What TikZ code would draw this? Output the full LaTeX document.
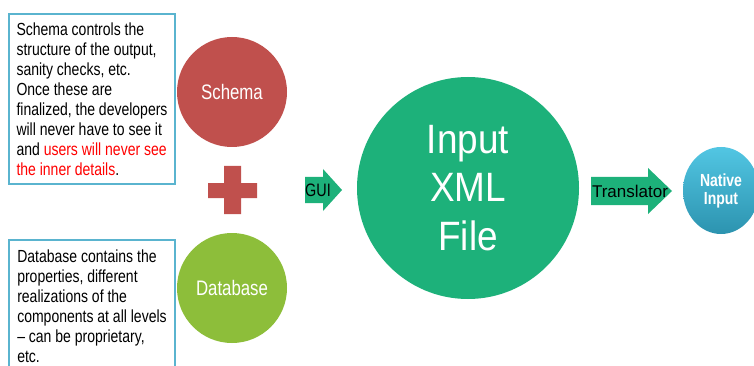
\documentclass[tikz,border=0pt]{standalone}
\usepackage{xcolor}
\usepackage{fontspec}
\setmainfont{Liberation Sans}
\newfontfamily\narrowfont{Liberation Sans}[FakeStretch=0.8]
\newfontfamily\lightfont{Liberation Sans}[FakeStretch=0.9]
\usepackage{tikz}
\usetikzlibrary{positioning, shapes.geometric}

\definecolor{schemared}{HTML}{C0504D}
\definecolor{dbgreen}{HTML}{8DBE3A}
\definecolor{xmlgreen}{HTML}{1DB17A}
\definecolor{boxblue}{HTML}{5AB4CF}
\definecolor{nativetop}{HTML}{52C6E3}
\definecolor{nativebot}{HTML}{2C93AF}

\begin{document}
\begin{tikzpicture}[
	x=1pt, y=-1pt,
	infobox/.style={draw=boxblue, line width=2pt, anchor=north west, align=left, minimum width=166pt, inner xsep=7pt, font=\narrowfont\fontsize{17.5}{20}\selectfont},
	bubble/.style={circle, fill=#1, text=white, minimum size=110pt, inner sep=0pt, font=\narrowfont\fontsize{21}{25}\selectfont},
	xmlfile/.style={circle, fill=xmlgreen, text=white, minimum size=222pt, inner sep=0pt, align=center, font=\lightfont\fontsize{41}{48.5}\selectfont},
	native/.style={ellipse, top color=nativetop, bottom color=nativebot, text=white, minimum width=76pt, minimum height=87pt, inner sep=0pt, align=center, font=\narrowfont\bfseries\fontsize{17.5}{18}\selectfont},
	arrowlabel/.style={inner sep=0pt, text=black}
	]
	
	\useasboundingbox (0,0) rectangle (754,366);
	\clip (0,0) rectangle (754,366);
	
	% Info boxes
	\node[infobox, minimum height=170pt] (schemainfo) at (8,13) {Schema controls the\\structure of the output,\\sanity checks, etc.\\Once these are\\finalized, the developers\\will never have to see it\\and {\color{red}users will never see}\\{\color{red}the inner details}.};
	\node[infobox, inner ysep=10pt] (dbinfo) at (8,239) {Database contains the\\properties, different\\realizations of the\\components at all levels\\– can be proprietary,\\etc.};
	
	% Schema + Database
	\node[bubble=schemared] (schema) at (232,92) {Schema};
	\node[bubble=dbgreen] (db) at (232,288) {Database};
	\fill[schemared] (208,183) rectangle (257,198) (224,166) rectangle (241,214);
	
	% GUI arrow
	\coordinate (guitail) at (305,190);
	\fill[xmlgreen] (guitail) ++(0,-13) -- ++(18,0) -- ++(0,-8) -- ++(19,21) -- ++(-19,21) -- ++(0,-8) -- ++(-18,0) -- cycle;
	\node[arrowlabel, font=\narrowfont\fontsize{18}{20}\selectfont] (gui) at (318,190) {GUI};
	
	% Input XML file
	\node[xmlfile] (xml) at (468,188) {Input\\XML\\File};
	
	% Translator arrow
	\coordinate (trtail) at (591,191);
	\fill[xmlgreen] (trtail) ++(0,-14) -- ++(57,0) -- ++(0,-9) -- ++(24,23) -- ++(-24,23) -- ++(0,-9) -- ++(-57,0) -- cycle;
	\node[arrowlabel, font=\fontsize{17}{20}\selectfont] (translator) at (630,191) {Translator};
	
	% Native input
	\node[native] (nat) at (721,190.5) {Native\\Input};
	
\end{tikzpicture}
\end{document}
